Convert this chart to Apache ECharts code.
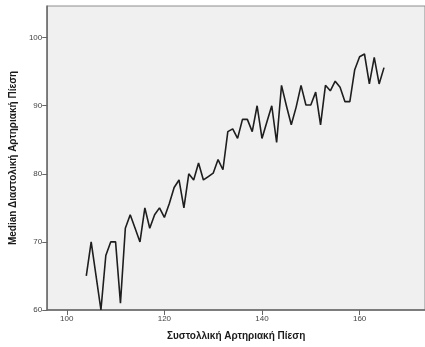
<!DOCTYPE html>
<html>
<head>
<meta charset="utf-8">
<script src="https://cdn.jsdelivr.net/npm/echarts@6/dist/echarts.min.js"></script>
<style>
  html, body { margin: 0; padding: 0; background: #ffffff; }
  #chart { width: 425px; height: 347px; }
</style>
</head>
<body>
<div id="chart"></div>
<script>
// Systolic pressure (x) and median diastolic pressure (y)
const systolic = [104,105,106,107,108,109,110,111,112,113,114,115,116,117,118,119,120,121,122,123,124,125,126,127,128,129,130,131,132,133,134,135,136,137,138,139,140,141,142,143,144,145,146,147,148,149,150,151,152,153,154,155,156,157,158,159,160,161,162,163,164,165];
const medianDiastolic = [65,70,65,60,68,70,70,61,72,74,72,70,75,72,74,75,73.6,75.6,78,79.1,75,80,79.1,81.6,79.1,79.6,80.1,82.1,80.6,86.2,86.6,85.2,88,88,86.2,90,85.2,87.6,90,84.6,93,90,87.2,89.8,93,90.1,90.1,92,87.2,93,92.2,93.6,92.7,90.6,90.6,95.3,97.2,97.6,93.2,97.1,93.2,95.6];
const xTicks = [100, 120, 140, 160];
const yTicks = [60, 70, 80, 90, 100];

const points = systolic.map((s, i) => [s, medianDiastolic[i]]);

const chart = echarts.init(document.getElementById('chart'), null, { renderer: 'canvas' });
chart.setOption({
  animation: false,
  backgroundColor: '#ffffff',
  textStyle: { fontFamily: '"Liberation Sans", Arial, sans-serif' },
  grid: {
    left: 42, top: 6, right: -2, bottom: 37,
    show: true, backgroundColor: '#f0f0f0', borderColor: '#8c8c8c', borderWidth: 1
  },
  xAxis: {
    type: 'value', min: 96, max: 173.4,
    name: 'Συστολλική Αρτηριακή Πίεση', nameLocation: 'middle', nameGap: 21,
    nameTextStyle: { fontSize: 10, fontWeight: 'bold', color: '#1a1a1a' },
    axisLine: { show: true, onZero: false, lineStyle: { color: '#666', width: 1.5 } },
    axisTick: { show: true, length: 5, customValues: xTicks, lineStyle: { color: '#666' } },
    axisLabel: { customValues: xTicks, fontSize: 8, color: '#444', margin: 5 },
    splitLine: { show: false }
  },
  yAxis: {
    type: 'value', min: 60, max: 104.65,
    name: 'Median Διαστολική Αρτηριακή Πίεση', nameLocation: 'middle', nameGap: 27,
    nameTextStyle: { fontSize: 10, fontWeight: 'bold', color: '#1a1a1a' },
    axisLine: { show: true, onZero: false, lineStyle: { color: '#666', width: 1.5 } },
    axisTick: { show: true, length: 5, customValues: yTicks, lineStyle: { color: '#666' } },
    axisLabel: { customValues: yTicks, fontSize: 8, color: '#444', margin: 5 },
    splitLine: { show: false }
  },
  series: [{
    type: 'line',
    data: points,
    showSymbol: false,
    lineStyle: { color: '#1e1e1e', width: 1.6 },
    clip: true
  }]
});
</script>
</body>
</html>
